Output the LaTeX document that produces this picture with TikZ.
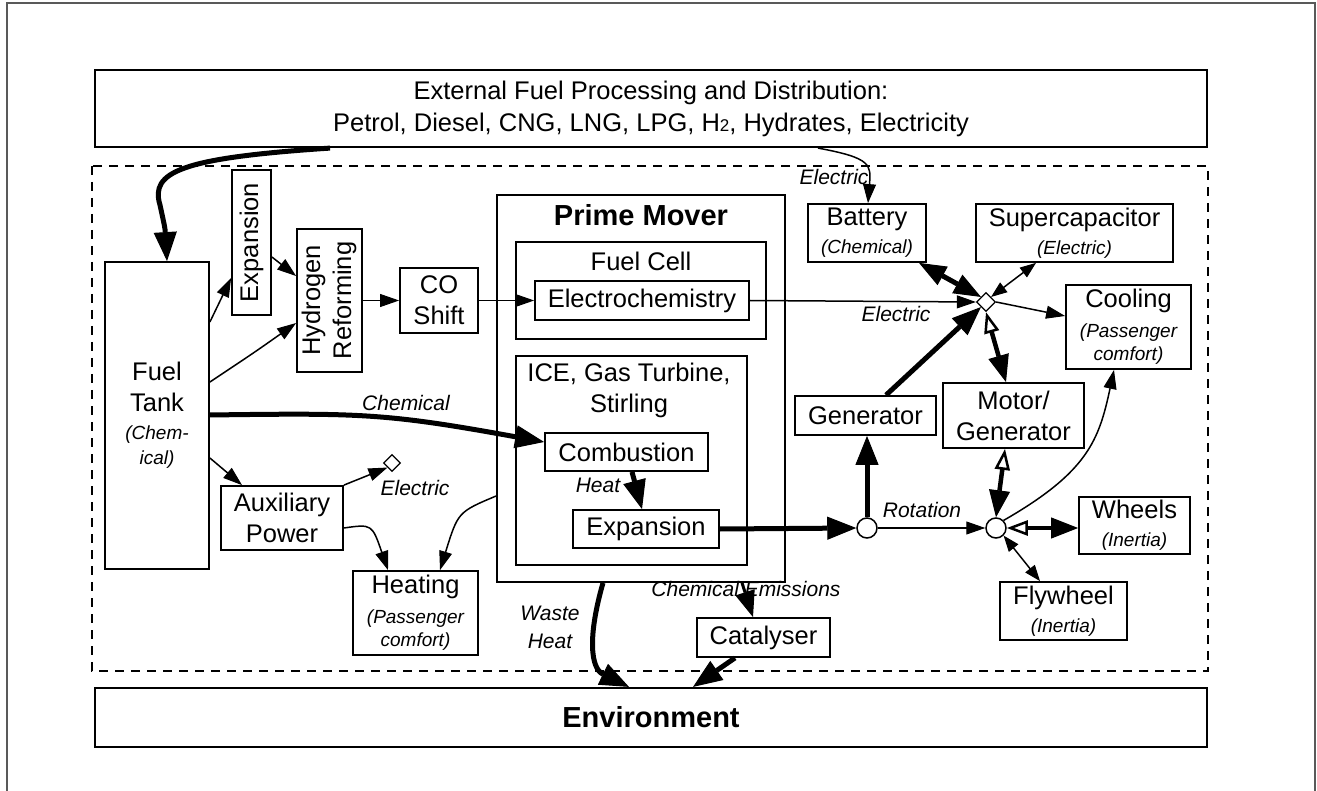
\documentclass[tikz,border=0pt]{standalone}
\usepackage{fontspec}
\setmainfont{Liberation Sans}
\usepackage{graphicx}
\usetikzlibrary{arrows.meta,shapes.geometric}
\newcommand\sublbl[1]{{\fontsize{19}{22}\selectfont\itshape #1}}

\begin{document}
\begin{tikzpicture}[x=1pt, y=-1pt,
  font=\fontsize{25.5}{31}\selectfont,
  box/.style={draw, line width=1.8pt, inner sep=0pt, align=center},
  lbl/.style={font=\fontsize{21}{28}\selectfont\itshape, inner sep=0pt, align=center},
  junction/.style={diamond, draw, fill=white, line width=1.2pt, inner sep=0pt, minimum size=19pt},
  shaft/.style={circle, draw, fill=white, line width=1.5pt, inner sep=0pt, minimum size=20pt},
  lineflow/.style={line width=1.5pt, -{Triangle[line width=1pt,length=19pt,width=13pt]}},
  heavyflow/.style={line width=5pt, -{Triangle[line width=1pt,length=29pt,width=23pt]}},
  midflow/.style={line width=3pt, -{Triangle[line width=1pt,length=26pt,width=20pt]}},
  lightdual/.style={line width=1.5pt, {Triangle[line width=1pt,length=16pt,width=12pt]}-{Triangle[line width=1pt,length=16pt,width=12pt]}},
  heavydual/.style={line width=5pt, {Triangle[line width=1pt,length=27pt,width=21pt]}-{Triangle[line width=1pt,length=27pt,width=21pt]}},
  halfopen/.style={line width=4.5pt, {Triangle[open,line width=2.5pt,length=21pt,width=15pt]}-{Triangle[line width=1pt,length=27pt,width=21pt]}}]
\useasboundingbox (0,0) rectangle (1317,791);
\draw[line width=1.5pt, black!65] (7,791) -- (7,3) -- (1315,3) -- (1315,791);

\node[box, line width=2.2pt, minimum width=1112pt, minimum height=77pt, font=\fontsize{25.5}{32}\selectfont] (ext) at (651,108.5) {External Fuel Processing and Distribution:\\Petrol, Diesel, CNG, LNG, LPG, H{\fontsize{17}{17}\selectfont 2}, Hydrates, Electricity};
\draw[line width=1.5pt, dash pattern=on 9pt off 7pt] (92,166) rectangle (1208,671);
\node[box, line width=2.2pt, minimum width=1112pt, minimum height=59pt, font=\fontsize{29}{34}\selectfont\bfseries] (env) at (651,717.5) {Environment};

\node[box, minimum width=104pt, minimum height=307pt] (tank) at (157,415.5) {Fuel\\Tank\\[-3pt]\sublbl{(Chem-}\\[-6pt]\sublbl{ical)}};
\node[box, minimum width=39pt, minimum height=145pt] (expa) at (251.5,242.5) {\rotatebox{90}{Expansion}};
\node[box, minimum width=65pt, minimum height=143pt] (reform) at (329.5,300.5) {\rotatebox{90}{\begin{tabular}{@{}c@{}}Hydrogen\\Reforming\end{tabular}}};
\node[box, minimum width=78pt, minimum height=65pt] (coshift) at (439,300.5) {CO\\Shift};

\node[box, minimum width=288pt, minimum height=387pt] (prime) at (641,388.5) {};
\node[font=\fontsize{29}{34}\selectfont\bfseries] (primetitle) at (641,215) {Prime Mover};
\node[box, minimum width=250pt, minimum height=97pt] (fuelcell) at (641,290.5) {};
\node (fctitle) at (641,261) {Fuel Cell};
\node[box, minimum width=214pt, minimum height=39pt] (electro) at (642,300.5) {Electrochemistry};
\node[box, minimum width=231pt, minimum height=209pt] (ice) at (631.5,460.5) {};
\node[align=center] (icetitle) at (629,390) {ICE, Gas Turbine,\\Stirling};
\node[box, minimum width=163pt, minimum height=38pt] (comb) at (626.5,452) {Combustion};
\node[box, minimum width=146pt, minimum height=38pt] (expb) at (646,529) {Expansion};

\node[box, minimum width=118pt, minimum height=58pt] (battery) at (867,233) {Battery\\[-3pt]\sublbl{(Chemical)}};
\node[box, minimum width=197pt, minimum height=58pt] (supercap) at (1074.5,233) {Supercapacitor\\[-3pt]\sublbl{(Electric)}};
\node[junction] (hub) at (986,302) {};
\node[box, minimum width=125pt, minimum height=84pt] (cooling) at (1128.5,327) {Cooling\\[-1pt]\sublbl{(Passenger}\\[-8pt]\sublbl{comfort)}};
\node[box, minimum width=141pt, minimum height=39pt] (generator) at (865.5,415.5) {Generator};
\node[box, minimum width=141pt, minimum height=65pt] (motor) at (1013.5,415.5) {Motor/\\Generator};
\node[shaft] (rota) at (867,528) {};
\node[shaft] (rotb) at (996,528) {};
\node[box, minimum width=111pt, minimum height=57pt] (wheels) at (1134.5,525.5) {Wheels\\[-3pt]\sublbl{(Inertia)}};
\node[box, minimum width=127pt, minimum height=58pt] (flywheel) at (1063.5,611) {Flywheel\\[-3pt]\sublbl{(Inertia)}};

\node[box, minimum width=122pt, minimum height=64pt] (aux) at (282,518) {Auxiliary\\Power};
\node[junction, minimum size=17pt] (auxout) at (392,463) {};
\node[box, minimum width=125pt, minimum height=84pt] (heating) at (415.5,613) {Heating\\[-1pt]\sublbl{(Passenger}\\[-8pt]\sublbl{comfort)}};
\node[box, minimum width=133pt, minimum height=39pt] (catalyser) at (763.5,637.5) {Catalyser};

\draw[heavyflow] (ext.south -| 330,0) .. controls (180,158) and (150,172) .. (160,205) .. controls (165,228) .. (tank.north -| 167,0);
\draw[lineflow] (ext.south -| 818,0) .. controls (872,158) and (871,165) .. (battery.north -| 868,0);
\node[lbl] (elecext) at (834,177) {Electric};

\draw[lineflow] (tank.east |- 0,322) -- (expa.west |- 0,278);
\draw[lineflow] (expa.east |- 0,257) -- (reform.west |- 0,276);
\draw[lineflow] (tank.east |- 0,382) .. controls (255,352) .. (reform.west |- 0,323);
\draw[lineflow] (reform.east) -- (coshift.west);
\draw[lineflow] (coshift.east) -- (electro.west);
\draw[lineflow] (electro.east) -- (hub.west);
\node[lbl] (elecfc) at (896,314) {Electric};

\draw[heavyflow] (tank.east |- 0,415) .. controls (360,413) and (385,413) .. (comb.west |- 0,442);
\node[lbl] (chem) at (406,403) {Chemical};
\draw[lineflow] (tank.east |- 0,458) -- (aux.north -| 242,0);
\draw[lineflow] (aux.north east) -- (auxout.south west);
\node[lbl] (elecaux) at (415,488) {Electric};
\draw[lineflow] (aux.east |- 0,528) .. controls (372,524) .. (heating.north -| 388,0);
\draw[lineflow] (prime.west |- 0,496) .. controls (458,512) .. (heating.north -| 440,0);

\draw[heavyflow] (comb.south -| 632,0) -- (expb.north -| 642,0);
\node[lbl] (heat) at (598,485) {Heat};
\draw[heavyflow] (expb.east) -- (rota.west);
\draw[heavyflow] (rota.north) -- (rota |- generator.south);
\draw[lineflow] (rota.east) -- (rotb.west);
\node[lbl] (rot) at (922,510) {Rotation};
\draw[heavyflow] (generator.north -| 886,0) -- (hub.south west);
\draw[heavydual] (battery.south -| 919,0) -- (hub.north west);
\draw[lightdual] (supercap.south -| 1036,0) -- (hub.north east);
\draw[lineflow] (hub.east) -- (cooling.west |- 0,316);
\draw[halfopen] (hub.south) -- (motor.north -| 1006,0);
\draw[halfopen] (motor.south -| 1005,0) -- (rotb.north);
\draw[lineflow] (rotb.north east) .. controls (1088,472) and (1099,440) .. (cooling.south -| 1114,0);
\draw[halfopen] (rotb.east) -- (wheels.west |- rotb);
\draw[lightdual] (rotb.south east) -- (flywheel.north -| 1040,0);

\draw[heavyflow] (prime.south -| 603,0) .. controls (588,635) and (590,668) .. (env.north -| 629,0);
\node[lbl] (waste) at (550,627) {Waste\\Heat};
\node[lbl] (emis) at (746,589) {Chemical Emissions};
\draw[midflow] (prime.south -| 742,0) -- (catalyser.north -| 753,0);
\draw[heavyflow] (catalyser.south -| 735,0) -- (env.north -| 693,0);
\end{tikzpicture}
\end{document}
